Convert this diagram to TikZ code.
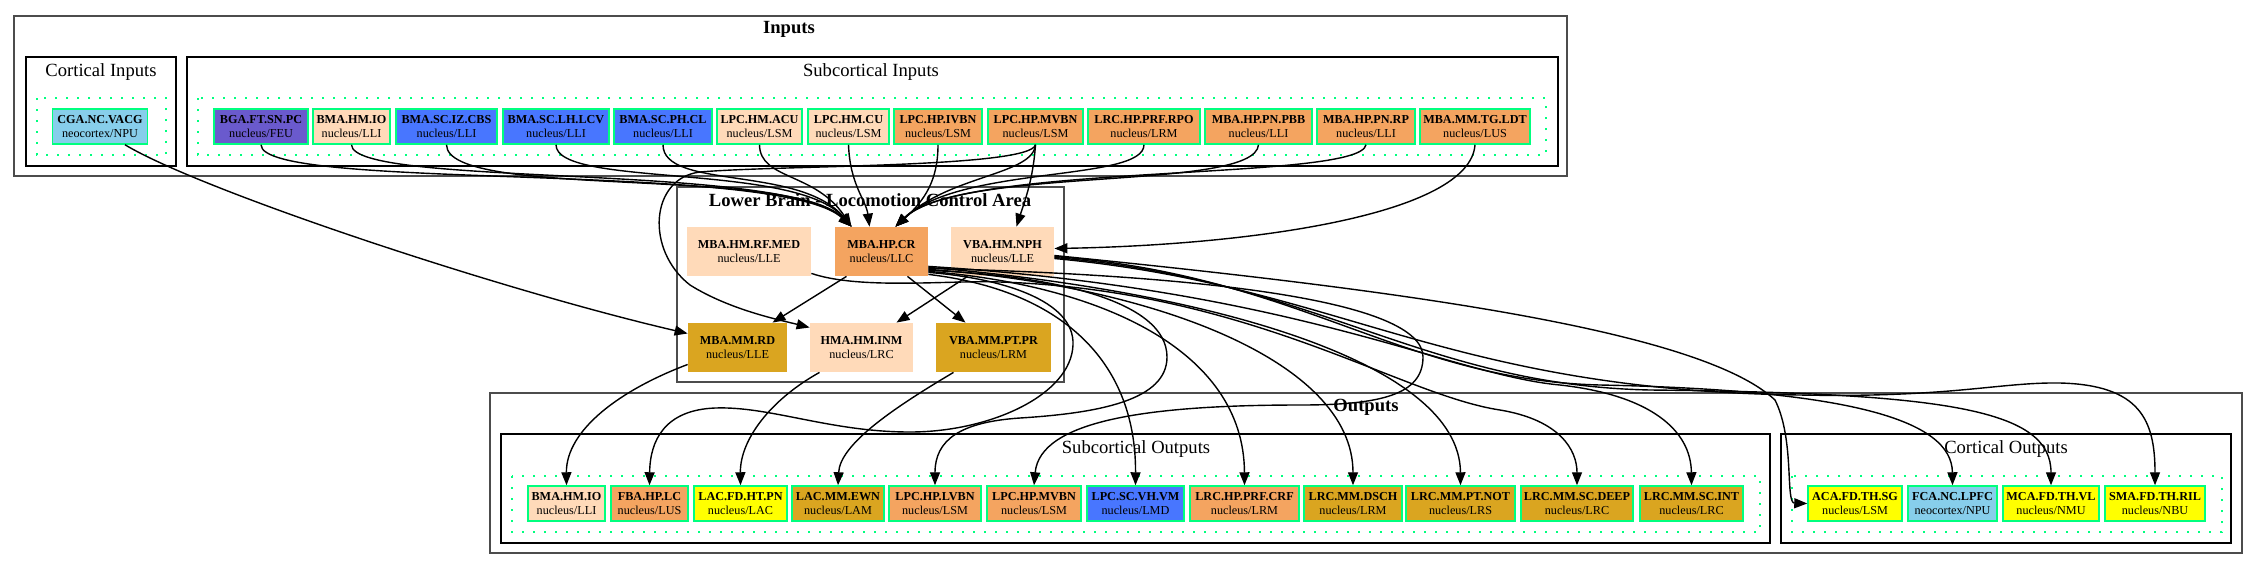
\documentclass[tikz,border=0pt]{standalone}
\usepackage{fontspec}
\setmainfont{Liberation Serif}
\usetikzlibrary{arrows.meta,calc}
\definecolor{peach}{HTML}{FFDAB9}
\definecolor{sandy}{HTML}{F4A460}
\definecolor{royal}{HTML}{4876FF}
\definecolor{slate}{HTML}{6A5ACD}
\definecolor{golden}{HTML}{DAA520}
\definecolor{yellowc}{HTML}{FFFF00}
\definecolor{sky}{HTML}{87CEEB}
\definecolor{sgreen}{HTML}{00FF7F}
\begin{document}
\begin{tikzpicture}[x=0.5pt,y=-0.5pt,
  cn/.style={draw=sgreen, line width=0.75pt, minimum height=17.5pt, inner sep=0pt, align=center, font=\fontsize{6.1}{7}\selectfont},
  ln/.style={draw=none, minimum height=24.5pt, inner sep=0pt, align=center, font=\fontsize{6.1}{7}\selectfont},
  outerbox/.style={draw=black!70, line width=1pt},
  innerbox/.style={draw=black, line width=0.8pt},
  dotbox/.style={draw=sgreen, line width=0.75pt, dash pattern=on 1pt off 4.5pt},
  ttl/.style={font=\bfseries\fontsize{9.3}{11}\selectfont, inner sep=0pt},
  lbl/.style={font=\fontsize{9.3}{11}\selectfont, inner sep=0pt},
  ed/.style={draw, line width=0.7pt, -{Triangle[length=6.5pt,width=5pt]}}
]
\useasboundingbox (0,0) rectangle (2259,569);
\fill[white] (0,0) rectangle (2259,569);

% clusters
\draw[outerbox] (14,16) rectangle (1567,176);
\node[ttl] (tInputs) at (789,29) {Inputs};
\draw[innerbox] (26,57) rectangle (176,166);
\node[lbl] (tCI) at (101,72) {Cortical Inputs};
\draw[dotbox] (37,98) rectangle (166,155);
\draw[innerbox] (187,57) rectangle (1558,166);
\node[lbl] (tSI) at (871,72) {Subcortical Inputs};
\draw[dotbox] (198,98) rectangle (1546,155);

\draw[outerbox] (677,187) rectangle (1064,382);
\node[ttl] (tLB) at (870,200) {Lower Brain - Locomotion Control Area};

\draw[outerbox] (490,393) rectangle (2242,553);
\node[ttl] (tOut) at (1366,407) {Outputs};
\draw[innerbox] (501,434) rectangle (1770,543);
\node[lbl] (tSO) at (1136,449) {Subcortical Outputs};
\draw[dotbox] (512,476) rectangle (1760,532);
\draw[innerbox] (1781,434) rectangle (2231,543);
\node[lbl] (tCO) at (2006,449) {Cortical Outputs};
\draw[dotbox] (1792,476) rectangle (2222,532);

% input nodes
\node[cn,fill=sky,minimum width=47.5pt] (cga) at (100,126.5) {\textbf{CGA.NC.VACG}\\neocortex/NPU};
\node[cn,fill=slate,minimum width=47pt] (i1) at (261,126.5) {\textbf{BGA.FT.SN.PC}\\nucleus/FEU};
\node[cn,fill=peach,minimum width=38.5pt] (i2) at (351.5,126.5) {\textbf{BMA.HM.IO}\\nucleus/LLI};
\node[cn,fill=royal,minimum width=50.5pt] (i3) at (446.5,126.5) {\textbf{BMA.SC.IZ.CBS}\\nucleus/LLI};
\node[cn,fill=royal,minimum width=53pt] (i4) at (556,126.5) {\textbf{BMA.SC.LH.LCV}\\nucleus/LLI};
\node[cn,fill=royal,minimum width=49pt] (i5) at (663,126.5) {\textbf{BMA.SC.PH.CL}\\nucleus/LLI};
\node[cn,fill=peach,minimum width=42.5pt] (i6) at (759.5,126.5) {\textbf{LPC.HM.ACU}\\nucleus/LSM};
\node[cn,fill=peach,minimum width=40.5pt] (i7) at (848.5,126.5) {\textbf{LPC.HM.CU}\\nucleus/LSM};
\node[cn,fill=sandy,minimum width=44pt] (i8) at (938,126.5) {\textbf{LPC.HP.IVBN}\\nucleus/LSM};
\node[cn,fill=sandy,minimum width=47.5pt] (i9) at (1035.5,126.5) {\textbf{LPC.HP.MVBN}\\nucleus/LSM};
\node[cn,fill=sandy,minimum width=56pt] (i10) at (1144,126.5) {\textbf{LRC.HP.PRF.RPO}\\nucleus/LRM};
\node[cn,fill=sandy,minimum width=53.5pt] (i11) at (1258.5,126.5) {\textbf{MBA.HP.PN.PBB}\\nucleus/LLI};
\node[cn,fill=sandy,minimum width=49pt] (i12) at (1366,126.5) {\textbf{MBA.HP.PN.RP}\\nucleus/LLI};
\node[cn,fill=sandy,minimum width=55pt] (i13) at (1475,126.5) {\textbf{MBA.MM.TG.LDT}\\nucleus/LUS};

% lower brain nodes
\node[ln,fill=peach,minimum width=62pt] (rfmed) at (749,251.5) {\textbf{MBA.HM.RF.MED}\\nucleus/LLE};
\node[ln,fill=sandy,minimum width=46.5pt] (cr) at (881.5,251.5) {\textbf{MBA.HP.CR}\\nucleus/LLC};
\node[ln,fill=peach,minimum width=51.5pt] (nph) at (1002.5,251.5) {\textbf{VBA.HM.NPH}\\nucleus/LLE};
\node[ln,fill=golden,minimum width=49.5pt] (rd) at (737.5,347.5) {\textbf{MBA.MM.RD}\\nucleus/LLE};
\node[ln,fill=peach,minimum width=51.5pt] (inm) at (861.5,347.5) {\textbf{HMA.HM.INM}\\nucleus/LRC};
\node[ln,fill=golden,minimum width=57.5pt] (ptpr) at (993.5,347.5) {\textbf{VBA.MM.PT.PR}\\nucleus/LRM};

% output nodes
\node[cn,fill=peach,minimum width=38.5pt] (o1) at (566.5,503.5) {\textbf{BMA.HM.IO}\\nucleus/LLI};
\node[cn,fill=sandy,minimum width=38.5pt] (o2) at (649.5,503.5) {\textbf{FBA.HP.LC}\\nucleus/LUS};
\node[cn,fill=yellowc,minimum width=46.5pt] (o3) at (740.5,503.5) {\textbf{LAC.FD.HT.PN}\\nucleus/LAC};
\node[cn,fill=golden,minimum width=46pt] (o4) at (838,503.5) {\textbf{LAC.MM.EWN}\\nucleus/LAM};
\node[cn,fill=sandy,minimum width=46pt] (o5) at (935,503.5) {\textbf{LPC.HP.LVBN}\\nucleus/LSM};
\node[cn,fill=sandy,minimum width=47pt] (o6) at (1034,503.5) {\textbf{LPC.HP.MVBN}\\nucleus/LSM};
\node[cn,fill=royal,minimum width=48.5pt] (o7) at (1135.5,503.5) {\textbf{LPC.SC.VH.VM}\\nucleus/LMD};
\node[cn,fill=sandy,minimum width=54.5pt] (o8) at (1244.5,503.5) {\textbf{LRC.HP.PRF.CRF}\\nucleus/LRM};
\node[cn,fill=golden,minimum width=49pt] (o9) at (1353,503.5) {\textbf{LRC.MM.DSCH}\\nucleus/LRM};
\node[cn,fill=golden,minimum width=54.5pt] (o10) at (1460.5,503.5) {\textbf{LRC.MM.PT.NOT}\\nucleus/LRS};
\node[cn,fill=golden,minimum width=56pt] (o11) at (1577,503.5) {\textbf{LRC.MM.SC.DEEP}\\nucleus/LRC};
\node[cn,fill=golden,minimum width=51.5pt] (o12) at (1691.5,503.5) {\textbf{LRC.MM.SC.INT}\\nucleus/LRC};
\node[cn,fill=yellowc,minimum width=47pt] (c1) at (1855,503.5) {\textbf{ACA.FD.TH.SG}\\nucleus/LSM};
\node[cn,fill=sky,minimum width=44.5pt] (c2) at (1952.5,503.5) {\textbf{FCA.NC.LPFC}\\neocortex/NPU};
\node[cn,fill=yellowc,minimum width=48pt] (c3) at (2051,503.5) {\textbf{MCA.FD.TH.VL}\\nucleus/NMU};
\node[cn,fill=yellowc,minimum width=50pt] (c4) at (2155,503.5) {\textbf{SMA.FD.TH.RIL}\\nucleus/NBU};

% targets on CR
\coordinate (crL) at ($(cr.north)+(-30,0)$);
\coordinate (crM) at ($(cr.north)+(-12,0)$);
\coordinate (crR) at ($(cr.north)+(14,0)$);

% inputs -> CR
\draw[ed] (i1.south) .. controls (261,192) and (780,160) .. (crL);
\draw[ed] (i2.south) .. controls (352,188) and (785,162) .. (crL);
\draw[ed] (i3.south) .. controls (447,200) and (790,165) .. (crL);
\draw[ed] (i4.south) .. controls (556,188) and (795,162) .. (crL);
\draw[ed] (i5.south) .. controls (663,190) and (800,165) .. (crL);
\draw[ed] (i6.south) .. controls (760,180) and (815,172) .. (crL);
\draw[ed] (i7.south) .. controls (850,185) and (866,200) .. (crM);
\draw[ed] (i8.south) .. controls (938,180) and (925,200) .. (crR);
\draw[ed] (i9.south) .. controls (1033,175) and (950,175) .. (crR);
\draw[ed] (i10.south) .. controls (1144,182) and (960,165) .. (crR);
\draw[ed] (i11.south) .. controls (1255,192) and (960,165) .. (crR);
\draw[ed] (i12.south) .. controls (1360,182) and (960,162) .. (crR);

% other inputs
\draw[ed] (i9.south) .. controls (1033,180) and (1025,200) .. ($(nph.north)+(14,0)$);
\draw[ed] (i9.south) .. controls (1030,168) and (780,165) .. (700,172)
   .. controls (650,178) and (645,250) .. (690,285)
   .. controls (730,310) and (780,320) .. ($(inm.west)+(0,-20)$);
\draw[ed] (i13.south) .. controls (1470,215) and (1250,245) .. ($(nph.east)+(0,-3)$);
\draw[ed] ($(cga.south)+(25,0)$) .. controls (200,190) and (500,290) .. ($(rd.west)+(0,-14)$);

% internal
\draw[ed] ($(cr.south)+(-35,0)$) -- ($(rd.north)+(35,0)$);
\draw[ed] ($(cr.south)+(26,0)$) -- ($(ptpr.north)+(-28,0)$);
\draw[ed] ($(nph.south)+(-35,0)$) -- ($(inm.north)+(35,0)$);

% lower -> outputs
\draw[ed] ($(rd.west)+(0,17)$) .. controls (620,390) and (566,430) .. (o1.north);
\draw[ed] ($(inm.south)+(-42,0)$) .. controls (770,400) and (740,440) .. (o3.north);
\draw[ed] ($(ptpr.south)+(-40,0)$) .. controls (890,410) and (840,445) .. (o4.north);

% CR -> outputs
\draw[ed] ($(cr.south east)+(0,-4)$) .. controls (1000,278) and (1075,300) .. (1073,345)
   .. controls (1071,395) and (990,432) .. (910,432)
   .. controls (830,432) and (770,406) .. (715,408)
   .. controls (665,410) and (650,440) .. (o2.north);
\draw[ed] ($(cr.south east)+(0,-6)$) .. controls (1050,275) and (1167,300) .. (1167,357)
   .. controls (1167,400) and (1100,413) .. (1020,418)
   .. controls (960,422) and (935,440) .. (o5.north);
\draw[ed] ($(cr.south east)+(0,-8)$) .. controls (1200,275) and (1423,300) .. (1423,357)
   .. controls (1423,395) and (1380,405) .. (1300,405)
   .. controls (1150,405) and (1040,420) .. (o6.north);
\draw[ed] ($(cr.south east)+(0,-2)$) .. controls (1060,290) and (1136,360) .. (o7.north);
\draw[ed] ($(cr.south east)+(0,-5)$) .. controls (1100,285) and (1244,350) .. (o8.north);
\draw[ed] ($(cr.south east)+(0,-7)$) .. controls (1150,285) and (1353,360) .. (o9.north);
\draw[ed] ($(cr.south east)+(0,-9)$) .. controls (1200,290) and (1460,360) .. (o10.north);
\draw[ed] ($(cr.south east)+(0,-10)$) .. controls (1300,290) and (1450,375) .. (1560,385)
   .. controls (1650,395) and (1691,430) .. (o12.north);
\draw[ed] ($(rfmed.south east)+(0,-3)$) .. controls (860,290) and (950,280) .. (1000,282)
   .. controls (1250,290) and (1400,395) .. (1500,410)
   .. controls (1560,420) and (1577,450) .. (o11.north);

% NPH -> cortical outputs
\draw[ed] ($(nph.east)+(0,4)$) .. controls (1400,290) and (1700,330) .. (1775,400)
   .. controls (1795,440) and (1785,503) .. (c1.west);
\draw[ed] ($(nph.east)+(0,5)$) .. controls (1300,275) and (1400,380) .. (1600,385)
   .. controls (1850,390) and (1952,420) .. (c2.north);
\draw[ed] ($(nph.east)+(0,6)$) .. controls (1320,280) and (1420,385) .. (1650,390)
   .. controls (1950,393) and (2051,410) .. (c3.north);
\draw[ed] ($(nph.east)+(0,7)$) .. controls (1340,285) and (1440,390) .. (1800,395)
   .. controls (1950,398) and (2000,382) .. (2060,383)
   .. controls (2140,385) and (2155,420) .. (c4.north);
\end{tikzpicture}
\end{document}
